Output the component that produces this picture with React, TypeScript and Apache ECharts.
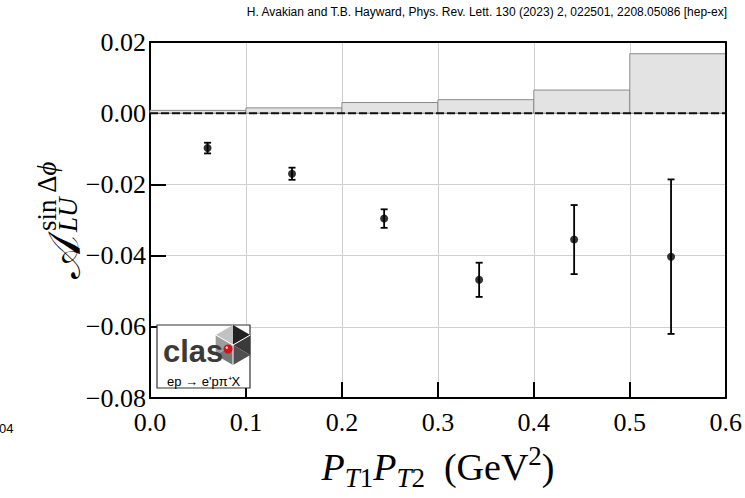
import React, { useEffect, useRef } from 'react';
import * as echarts from 'echarts';

// ---- data ----
const binEdges = [0, 0.1, 0.2, 0.3, 0.4, 0.5, 0.6];
const sysErrors = [0.0008, 0.0015, 0.003, 0.0038, 0.0065, 0.0167];
const ptValues = [0.06, 0.148, 0.244, 0.343, 0.442, 0.543];
const asymValues = [-0.0098, -0.017, -0.0296, -0.0468, -0.0355, -0.0403];
const statErrors = [0.0015, 0.0017, 0.0026, 0.0048, 0.0097, 0.0217];

const titleText =
  'H. Avakian and T.B. Hayward, Phys. Rev. Lett. 130 (2023) 2, 022501, 2208.05086 [hep-ex]';
const reactionText = "ep \u2192 e'p\u03c0\u207aX";
const cornerText = '04';

const serif = "'Liberation Serif', 'DejaVu Serif', serif";
const sans = "'Liberation Sans', Arial, sans-serif";

function buildOption() {
  const sysData = sysErrors.map((v, i) => [binEdges[i], binEdges[i + 1], v]);
  const pointData = ptValues.map((x, i) => [x, asymValues[i]]);
  const errData = ptValues.map((x, i) => [x, asymValues[i], statErrors[i]]);

  // CLAS logo hexagon
  const cx = 233;
  const cy = 345;
  const r = 20;
  const verts = [-90, -30, 30, 90, 150, 210].map((a) => [
    cx + r * Math.cos((a * Math.PI) / 180),
    cy + r * Math.sin((a * Math.PI) / 180),
  ]);
  const faceColors = ['#222222', '#3a3a3a', '#505050', '#777777', '#9d9d9d', '#c2c2c2'];
  const faces = faceColors.map((c, k) => ({
    type: 'polygon',
    z: 101,
    shape: { points: [[cx, cy], verts[k], verts[(k + 1) % 6]] },
    style: { fill: c },
  }));

  const axisLabelSerif = { fontFamily: serif, fontSize: 26, color: '#000' };

  return {
    animation: false,
    backgroundColor: '#ffffff',
    grid: { left: 150, top: 42, width: 576, height: 356, containLabel: false },
    xAxis: [
      {
        type: 'value',
        min: 0,
        max: 0.6,
        interval: 0.1,
        axisLine: { show: true, onZero: false, lineStyle: { color: '#000', width: 2 } },
        axisTick: { show: true, inside: true, length: 16, lineStyle: { color: '#000', width: 2 } },
        splitLine: { show: true, lineStyle: { color: '#d0d0d0', width: 1 } },
        axisLabel: {
          ...axisLabelSerif,
          margin: 11,
          showMaxLabel: true,
          showMinLabel: true,
          formatter: (v: number) => v.toFixed(1),
        },
      },
      {
        type: 'value',
        position: 'top',
        min: 0,
        max: 0.6,
        z: 5,
        axisLine: { show: true, onZero: false, lineStyle: { color: '#000', width: 2 } },
        axisTick: { show: false },
        axisLabel: { show: false },
        splitLine: { show: false },
      },
    ],
    yAxis: [
      {
        type: 'value',
        min: -0.08,
        max: 0.02,
        interval: 0.02,
        axisLine: { show: true, onZero: false, lineStyle: { color: '#000', width: 2 } },
        axisTick: { show: true, inside: true, length: 16, lineStyle: { color: '#000', width: 2 } },
        splitLine: { show: true, lineStyle: { color: '#d0d0d0', width: 1 } },
        axisLabel: {
          ...axisLabelSerif,
          margin: 4,
          showMaxLabel: true,
          showMinLabel: true,
          formatter: (v: number) => v.toFixed(2).replace('-', '\u2212'),
        },
      },
      {
        type: 'value',
        position: 'right',
        min: -0.08,
        max: 0.02,
        z: 5,
        axisLine: { show: true, onZero: false, lineStyle: { color: '#000', width: 2 } },
        axisTick: { show: false },
        axisLabel: { show: false },
        splitLine: { show: false },
      },
    ],
    series: [
      {
        name: 'systematic',
        type: 'custom',
        z: 1,
        data: sysData,
        encode: { x: [0, 1], y: 2 },
        renderItem: (_p: any, api: any) => {
          const p0 = api.coord([api.value(0), 0]);
          const p1 = api.coord([api.value(1), api.value(2)]);
          return {
            type: 'rect',
            shape: { x: p0[0], y: p1[1], width: p1[0] - p0[0], height: p0[1] - p1[1] },
            style: { fill: '#e3e3e3', stroke: '#8a8a8a', lineWidth: 1 },
          };
        },
      },
      {
        name: 'zero',
        type: 'line',
        z: 3,
        data: [
          [binEdges[0], 0],
          [binEdges[binEdges.length - 1], 0],
        ],
        symbol: 'none',
        lineStyle: { color: '#111', width: 2, type: [8, 3] },
      },
      {
        name: 'stat',
        type: 'custom',
        z: 4,
        data: errData,
        encode: { x: 0, y: 1 },
        renderItem: (_p: any, api: any) => {
          const x = api.value(0);
          const y = api.value(1);
          const e = api.value(2);
          const top = api.coord([x, y + e]);
          const bot = api.coord([x, y - e]);
          const hw = 3.5;
          const style = { stroke: '#000', lineWidth: 1.8 };
          return {
            type: 'group',
            children: [
              { type: 'line', shape: { x1: top[0], y1: top[1], x2: bot[0], y2: bot[1] }, style },
              { type: 'line', shape: { x1: top[0] - hw, y1: top[1], x2: top[0] + hw, y2: top[1] }, style },
              { type: 'line', shape: { x1: bot[0] - hw, y1: bot[1], x2: bot[0] + hw, y2: bot[1] }, style },
            ],
          };
        },
      },
      {
        name: 'asym',
        type: 'scatter',
        z: 5,
        data: pointData,
        symbol: 'circle',
        symbolSize: 8,
        itemStyle: { color: '#000' },
      },
    ],
    graphic: [
      {
        type: 'text',
        right: 17,
        top: 6,
        style: { text: titleText, fontSize: 12, fontFamily: sans, fill: '#000' },
      },
      {
        type: 'text',
        x: -1,
        y: 422,
        style: { text: cornerText, fontSize: 13, fontFamily: sans, fill: '#000' },
      },
      {
        type: 'text',
        x: 438,
        y: 467,
        style: {
          text: '{i|P}{si|T}{sr|1}{i|P}{si|T}{sr|2}{r|  (GeV}{sup|2}{r|)}',
          align: 'center',
          verticalAlign: 'middle',
          rich: {
            i: { fontFamily: serif, fontStyle: 'italic', fontSize: 38, lineHeight: 50, fill: '#000' },
            r: { fontFamily: serif, fontSize: 38, lineHeight: 50, fill: '#000' },
            si: { fontFamily: serif, fontStyle: 'italic', fontSize: 27, lineHeight: 27, padding: [22, 0, 0, 0], fill: '#000' },
            sr: { fontFamily: serif, fontSize: 27, lineHeight: 27, padding: [22, 0, 0, 0], fill: '#000' },
            sup: { fontFamily: serif, fontSize: 27, lineHeight: 27, padding: [0, 0, 22, 0], fill: '#000' },
          },
        },
      },
      {
        type: 'group',
        x: 78,
        y: 279,
        rotation: Math.PI / 2,
        children: [
          {
            type: 'text',
            x: 0,
            y: -14,
            style: {
              text: '\ud835\udc9c',
              fontSize: 46,
              fontFamily: "'DejaVu Serif', 'DejaVu Sans', serif",
              fill: '#000',
              align: 'left',
              verticalAlign: 'middle',
            },
          },
          {
            type: 'text',
            x: 48,
            y: -31,
            style: {
              text: '{r|sin \u0394}{i|\u03d5}',
              align: 'left',
              verticalAlign: 'middle',
              rich: {
                r: { fontFamily: serif, fontSize: 27, fill: '#000' },
                i: { fontFamily: serif, fontStyle: 'italic', fontSize: 27, fill: '#000' },
              },
            },
          },
          {
            type: 'text',
            x: 47,
            y: -10,
            style: {
              text: 'LU',
              fontFamily: serif,
              fontStyle: 'italic',
              fontSize: 27,
              fill: '#000',
              align: 'left',
              verticalAlign: 'middle',
            },
          },
        ],
      },
      // CLAS logo box
      {
        type: 'rect',
        z: 100,
        shape: { x: 157, y: 325, width: 93, height: 63 },
        style: { fill: '#fff', stroke: '#333', lineWidth: 1.2 },
      },
      ...faces,
      {
        type: 'polyline',
        z: 102,
        shape: { points: [verts[5], [cx, cy], verts[1]] },
        style: { stroke: '#fff', lineWidth: 1, fill: null },
      },
      {
        type: 'line',
        z: 102,
        shape: { x1: cx, y1: cy, x2: verts[3][0], y2: verts[3][1] },
        style: { stroke: '#fff', lineWidth: 1 },
      },
      {
        type: 'circle',
        z: 103,
        shape: { cx: 228, cy: 349, r: 4.5 },
        style: { fill: '#d3121c' },
      },
      {
        type: 'circle',
        z: 104,
        shape: { cx: 226.8, cy: 347.6, r: 1.3 },
        style: { fill: '#ffd0d0' },
      },
      {
        type: 'text',
        z: 105,
        x: 163,
        y: 351,
        style: {
          text: 'clas',
          fontSize: 31,
          fontWeight: 'bold',
          fontFamily: sans,
          fill: '#3a3a3a',
          verticalAlign: 'middle',
        },
      },
      {
        type: 'text',
        z: 105,
        x: 167,
        y: 381,
        style: {
          text: reactionText,
          fontSize: 13,
          fontFamily: sans,
          fill: '#000',
          verticalAlign: 'middle',
        },
      },
    ],
  };
}

export default function App() {
  const ref = useRef<HTMLDivElement>(null);
  useEffect(() => {
    if (!ref.current) return;
    const chart = echarts.init(ref.current, undefined, { renderer: 'svg' });
    chart.setOption(buildOption() as any);
    return () => chart.dispose();
  }, []);
  return (
    <div
      ref={ref}
      style={{ position: 'fixed', left: 0, top: 0, width: 745, height: 498, background: '#fff' }}
    />
  );
}
